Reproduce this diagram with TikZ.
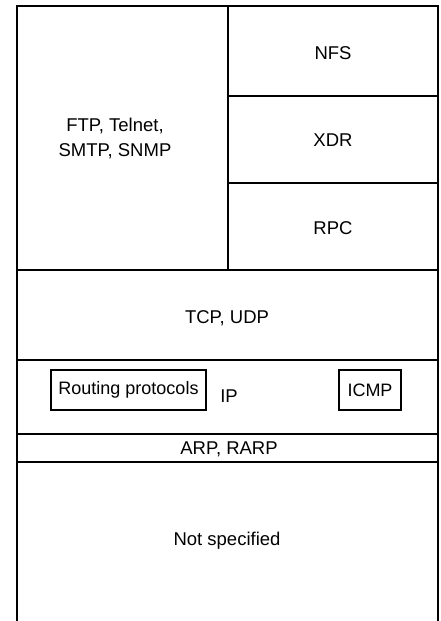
\documentclass[tikz,border=0pt]{standalone}
\usepackage{fontspec}
\setmainfont{Liberation Sans}
\begin{document}
\begin{tikzpicture}[x=1pt,y=-1pt,
  lbl/.style={font=\fontsize{18.5}{25}\selectfont, inner sep=0pt, align=center},
  sub/.style={draw, line width=1.2pt, font=\fontsize{18}{22}\selectfont, inner sep=0pt, minimum height=40pt},
  ln/.style={line width=1.3pt}]
\useasboundingbox (0,0) rectangle (440,621);
% named corners
\coordinate (tl) at (17,6);
\coordinate (tr) at (438,6);
\coordinate (bl) at (17,621);
\coordinate (br) at (438,621);
\coordinate (vt) at (228,6);
\coordinate (vb) at (228,270);
\coordinate (h1l) at (228,96);  \coordinate (h1r) at (438,96);
\coordinate (h2l) at (228,183); \coordinate (h2r) at (438,183);
\coordinate (h3l) at (17,270);  \coordinate (h3r) at (438,270);
\coordinate (h4l) at (17,360);  \coordinate (h4r) at (438,360);
\coordinate (h5l) at (17,434);  \coordinate (h5r) at (438,434);
\coordinate (h6l) at (17,462);  \coordinate (h6r) at (438,462);
\draw[ln] (bl) -- (tl) -- (tr) -- (br);
\draw[ln] (vt) -- (vb);
\draw[ln] (h1l) -- (h1r);
\draw[ln] (h2l) -- (h2r);
\draw[ln] (h3l) -- (h3r);
\draw[ln] (h4l) -- (h4r);
\draw[ln] (h5l) -- (h5r);
\draw[ln] (h6l) -- (h6r);
% labels
\node[lbl] (nfs) at (333,53) {NFS};
\node[lbl] (xdr) at (333,140) {XDR};
\node[lbl] (rpc) at (333,228) {RPC};
\node[lbl] (ftp) at (115,138) {FTP, Telnet,\\SMTP, SNMP};
\node[lbl] (tcp) at (227,318) {TCP, UDP};
\node[sub, minimum width=155pt] (rout) at (128.5,390) {Routing protocols};
\node[lbl] (ip) at (229,396) {IP};
\node[sub, minimum width=62pt] (icmp) at (370,390) {ICMP};
\node[lbl] (arp) at (229,449) {ARP, RARP};
\node[lbl] (ns) at (227,541) {Not specified};
\end{tikzpicture}
\end{document}
